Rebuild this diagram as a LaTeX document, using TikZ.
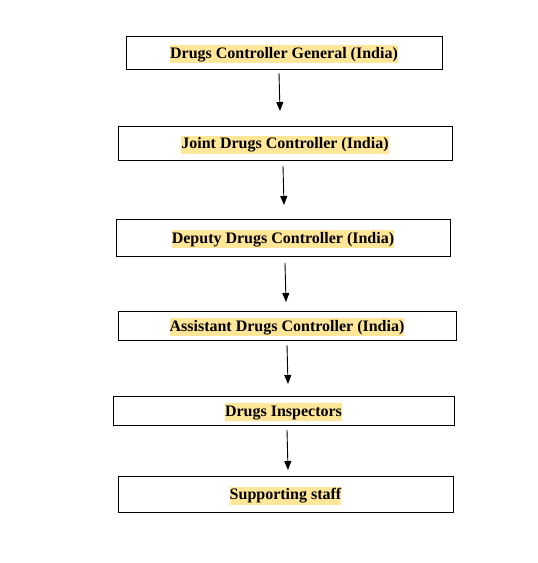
\documentclass[tikz,border=0pt]{standalone}
\usepackage{fontspec}
\setmainfont{Liberation Serif}
\usetikzlibrary{arrows.meta}
\definecolor{hl}{HTML}{FFE699}
\begin{document}
\begin{tikzpicture}[x=1pt,y=-1pt,
  box/.style={draw=black,line width=0.9pt,minimum width=#1,inner sep=0pt},
  lab/.style={fill=hl,inner sep=0pt,font=\fontsize{16}{18}\selectfont\bfseries,text height=13pt,text depth=5pt,yshift=-1.5pt},
  arr/.style={line width=0.9pt,-{Triangle[length=9pt,width=7pt]}}]
\useasboundingbox (0,0) rectangle (538,563);
\node[box=316pt,minimum height=33pt] (b1) at (284,52.5) {};
\node[box=334pt,minimum height=34pt] (b2) at (285,143) {};
\node[box=334pt,minimum height=37pt] (b3) at (283,237.5) {};
\node[box=338pt,minimum height=29pt] (b4) at (287,325.5) {};
\node[box=341pt,minimum height=29pt] (b5) at (283.5,410.5) {};
\node[box=335pt,minimum height=36pt] (b6) at (285.5,494) {};
\node[lab] (t1) at (b1.center) {Drugs Controller General (India)};
\node[lab] (t2) at (b2.center) {Joint Drugs Controller (India)};
\node[lab] (t3) at (b3.center) {Deputy Drugs Controller (India)};
\node[lab] (t4) at (b4.center) {Assistant Drugs Controller (India)};
\node[lab] (t5) at (b5.center) {Drugs Inspectors};
\node[lab] (t6) at (b6.center) {Supporting staff};
\coordinate (a1s) at (279,73); \coordinate (a1e) at (280,111);
\coordinate (a2s) at (283,166); \coordinate (a2e) at (284,205);
\coordinate (a3s) at (285,263); \coordinate (a3e) at (286,302);
\coordinate (a4s) at (287,345); \coordinate (a4e) at (288,384);
\coordinate (a5s) at (287,430); \coordinate (a5e) at (288,470);
\draw[arr] (a1s) -- (a1e);
\draw[arr] (a2s) -- (a2e);
\draw[arr] (a3s) -- (a3e);
\draw[arr] (a4s) -- (a4e);
\draw[arr] (a5s) -- (a5e);
\end{tikzpicture}
\end{document}
